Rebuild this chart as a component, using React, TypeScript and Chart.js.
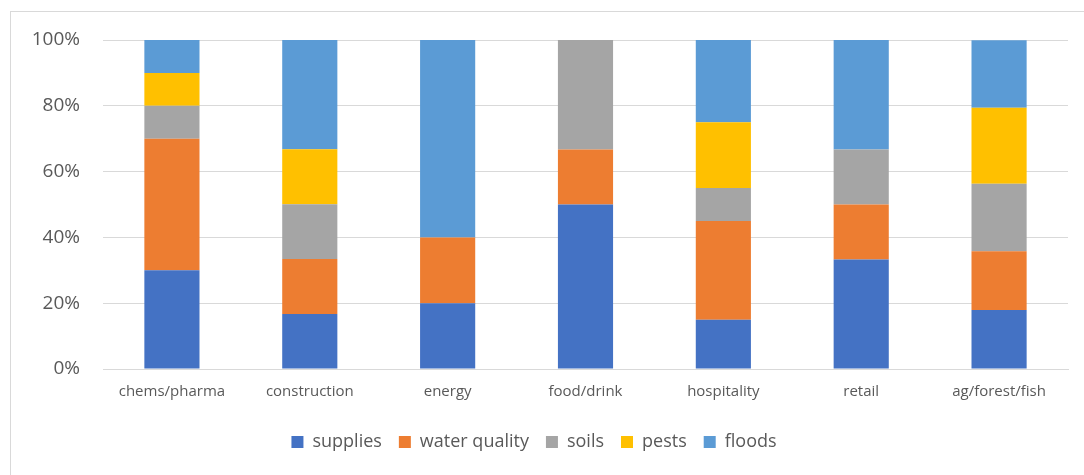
import React, { useEffect, useRef } from "react";
import { Chart, registerables } from "chart.js";

Chart.register(...registerables);

const categories = ["chems/pharma", "construction", "energy", "food/drink", "hospitality", "retail", "ag/forest/fish"];
const supplies = [30, 16.7, 20, 50, 15, 33.3, 17.9];
const waterQuality = [40, 16.7, 20, 16.7, 30, 16.7, 17.9];
const soils = [10, 16.7, 0, 33.3, 10, 16.7, 20.5];
const pests = [10, 16.7, 0, 0, 20, 0, 23.1];
const floods = [10, 33.3, 60, 0, 25, 33.3, 20.5];
const yTicks = [0, 20, 40, 60, 80, 100];

const FONT = "'Open Sans', 'Liberation Sans', sans-serif";
const TEXT = "#595959";

export default function App() {
  const ref = useRef<HTMLCanvasElement | null>(null);
  useEffect(() => {
    if (!ref.current) return;
    const mk = (label: string, data: number[], color: string) => ({
      label,
      data,
      backgroundColor: color,
      borderWidth: 0,
      barPercentage: 0.8,
      categoryPercentage: 0.5,
    });
    const chart = new Chart(ref.current, {
      type: "bar",
      data: {
        labels: categories,
        datasets: [
          mk("supplies", supplies, "#4472C4"),
          mk("water quality", waterQuality, "#ED7D31"),
          mk("soils", soils, "#A5A5A5"),
          mk("pests", pests, "#FFC000"),
          mk("floods", floods, "#5B9BD5"),
        ],
      },
      options: {
        animation: false,
        responsive: false,
        maintainAspectRatio: false,
        layout: { padding: { top: 40, right: 16, bottom: 14, left: 0 } },
        plugins: {
          tooltip: { enabled: false },
          legend: {
            position: "bottom",
            labels: {
              boxWidth: 12,
              boxHeight: 12,
              padding: 17,
              color: TEXT,
              font: { family: FONT, size: 18 },
            },
          },
        },
        scales: {
          x: {
            stacked: true,
            grid: { display: false, drawTicks: false },
            border: { color: "#d9d9d9", width: 1 },
            ticks: { color: TEXT, font: { family: FONT, size: 15 }, padding: 14, maxRotation: 0 },
            afterFit: (s: any) => { s.height = 47; },
          },
          y: {
            stacked: true,
            min: 0,
            max: 100,
            afterBuildTicks: (s: any) => { s.ticks = yTicks.map((v) => ({ value: v })); },
            grid: { color: "#d9d9d9", drawTicks: false },
            border: { display: false },
            ticks: {
              color: TEXT,
              font: { family: FONT, size: 19 },
              padding: 23,
              callback: (v: any) => v + "%",
            },
            afterFit: (s: any) => { s.width = 103; },
          },
        },
      },
    });
    return () => chart.destroy();
  }, []);
  return (
    <div style={{ position: "fixed", left: 0, top: 0, width: 1084, height: 475, background: "#fff" }}>
      <div style={{ position: "absolute", left: 10, top: 11, width: 1100, height: 500, border: "1px solid #d9d9d9", boxSizing: "border-box" }} />
      <canvas ref={ref} width={1084} height={475} style={{ position: "absolute", left: 0, top: 0, width: 1084, height: 475 }} />
    </div>
  );
}
